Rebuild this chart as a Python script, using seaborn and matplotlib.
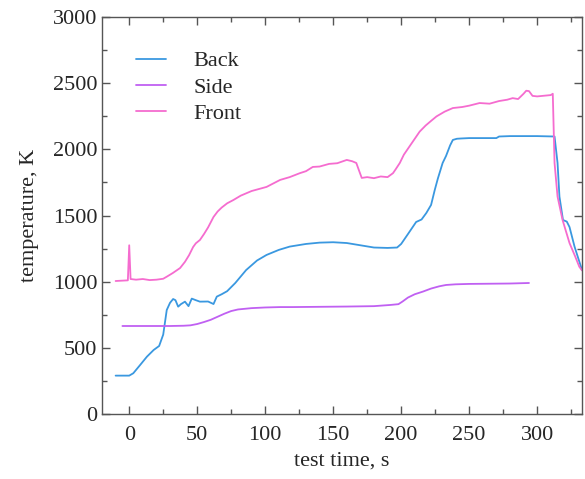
import numpy as np
import pandas as pd
import matplotlib
matplotlib.use('Agg')
import matplotlib.pyplot as plt
from matplotlib.ticker import MultipleLocator
import seaborn as sns

# Data
back_t = [-10, 0, 3, 8, 13, 18, 22, 25, 27.6, 30, 32.3, 34, 36, 38, 41, 43.6, 46, 49, 52, 58, 62, 64.4,
          68, 72, 78, 86, 94, 101, 110, 118, 130, 140, 150, 160, 170, 180, 190, 197, 200, 205, 211,
          215, 218.5, 222, 224.7, 227, 230.5, 233, 236, 238, 241, 244, 250, 260, 270, 272, 280, 290,
          300, 312.8, 315, 316.4, 319, 321.8, 323.8, 327.5, 333]
back_v = [290, 290, 308, 370, 433, 484, 514, 600, 786, 840, 869, 860, 811, 830, 849, 815, 872, 860, 849,
          850, 831, 887, 905, 928, 990, 1088, 1160, 1202, 1240, 1265, 1285, 1295, 1298, 1292, 1275,
          1258, 1255, 1258, 1285, 1360, 1451, 1470, 1519, 1580, 1693, 1780, 1897, 1950, 2030, 2071,
          2080, 2082, 2085, 2085, 2085, 2097, 2100, 2100, 2100, 2097, 1897, 1643, 1466, 1454, 1413,
          1265, 1088]

side_t = [-5, 10, 20, 30, 40, 45, 50, 55, 60, 65, 70, 75, 80, 90, 100, 111, 120, 140, 160, 180, 192,
          198, 201, 205, 210, 216, 222, 228, 233, 240, 250, 260, 280, 294]
side_v = [665, 665, 665, 665, 667, 670, 680, 695, 712, 735, 758, 778, 790, 800, 805, 808, 808, 810,
          812, 815, 824, 830, 850, 880, 905, 925, 948, 965, 975, 980, 983, 984, 986, 990]

front_t = [-10, -1, 0, 1, 5, 10, 15, 20, 25, 28, 32, 37.4, 41, 44, 47, 49, 52, 55, 58, 62, 65, 68,
           72, 76.6, 82, 90, 101, 111, 118, 125.5, 130, 135, 140, 147, 153, 160, 164, 167, 169, 171,
           175, 180, 185, 190, 194, 196, 199, 202, 206, 210, 213.6, 218, 222, 226, 232, 238, 245, 250,
           257.7, 265, 272, 278, 282, 286, 288, 290, 292, 294, 296.6, 300, 305, 310, 311.5, 312.8,
           315, 318.7, 323.8, 328, 331, 333]
front_v = [1005, 1010, 1275, 1020, 1015, 1020, 1012, 1015, 1022, 1040, 1065, 1103, 1150, 1200, 1262,
           1290, 1315, 1360, 1410, 1489, 1530, 1560, 1592, 1617, 1650, 1685, 1716, 1769, 1790, 1820,
           1835, 1867, 1870, 1890, 1895, 1920, 1910, 1897, 1840, 1784, 1790, 1782, 1795, 1790, 1820,
           1850, 1897, 1960, 2020, 2080, 2134, 2180, 2215, 2249, 2285, 2312, 2320, 2330, 2350, 2345,
           2365, 2375, 2387, 2380, 2400, 2420, 2443, 2440, 2404, 2400, 2405, 2410, 2420, 1897, 1643,
           1466, 1292, 1190, 1113, 1085]

series_names = ['Back', 'Side', 'Front']
series_colors = ['#3a98e0', '#c060f2', '#f56ccf']

df = pd.concat([
    pd.DataFrame({'t': back_t, 'T': back_v, 'series': 'Back'}),
    pd.DataFrame({'t': side_t, 'T': side_v, 'series': 'Side'}),
    pd.DataFrame({'t': front_t, 'T': front_v, 'series': 'Front'}),
], ignore_index=True)

sns.set_style('ticks')
plt.rcParams['font.family'] = ['Liberation Serif', 'DejaVu Serif']
plt.rcParams['font.size'] = 16

fig = plt.figure(figsize=(5.85, 4.79), dpi=100)
ax = fig.add_axes([0.1744, 0.1357, 0.8205, 0.8288])

sns.lineplot(data=df, x='t', y='T', hue='series', hue_order=series_names,
             palette=dict(zip(series_names, series_colors)), sort=False, estimator=None,
             linewidth=1.3, ax=ax)

ax.set_xlim(-20, 333)
ax.set_ylim(0, 3000)
ax.xaxis.set_major_locator(MultipleLocator(50))
ax.xaxis.set_minor_locator(MultipleLocator(25))
ax.yaxis.set_major_locator(MultipleLocator(500))
ax.yaxis.set_minor_locator(MultipleLocator(250))
ax.tick_params(which='both', direction='in', top=True, right=True, color='#555555', labelsize=16)
ax.tick_params(axis='x', which='both', pad=9)
ax.tick_params(axis='y', which='both', pad=3.5)
ax.tick_params(which='major', length=6, width=1)
ax.tick_params(which='minor', length=3.5, width=1)
for sp in ax.spines.values():
    sp.set_color('#555555')
    sp.set_linewidth(1)

ax.set_xlabel('test time, s', fontsize=16)
ax.set_ylabel('temperature, K', fontsize=16, labelpad=10)

leg = ax.legend(loc='upper left', bbox_to_anchor=(0.03, 0.965), frameon=False, fontsize=16,
                handlelength=1.35, handletextpad=1.2, labelspacing=0.25)

fig.savefig('out.png', dpi=100)
